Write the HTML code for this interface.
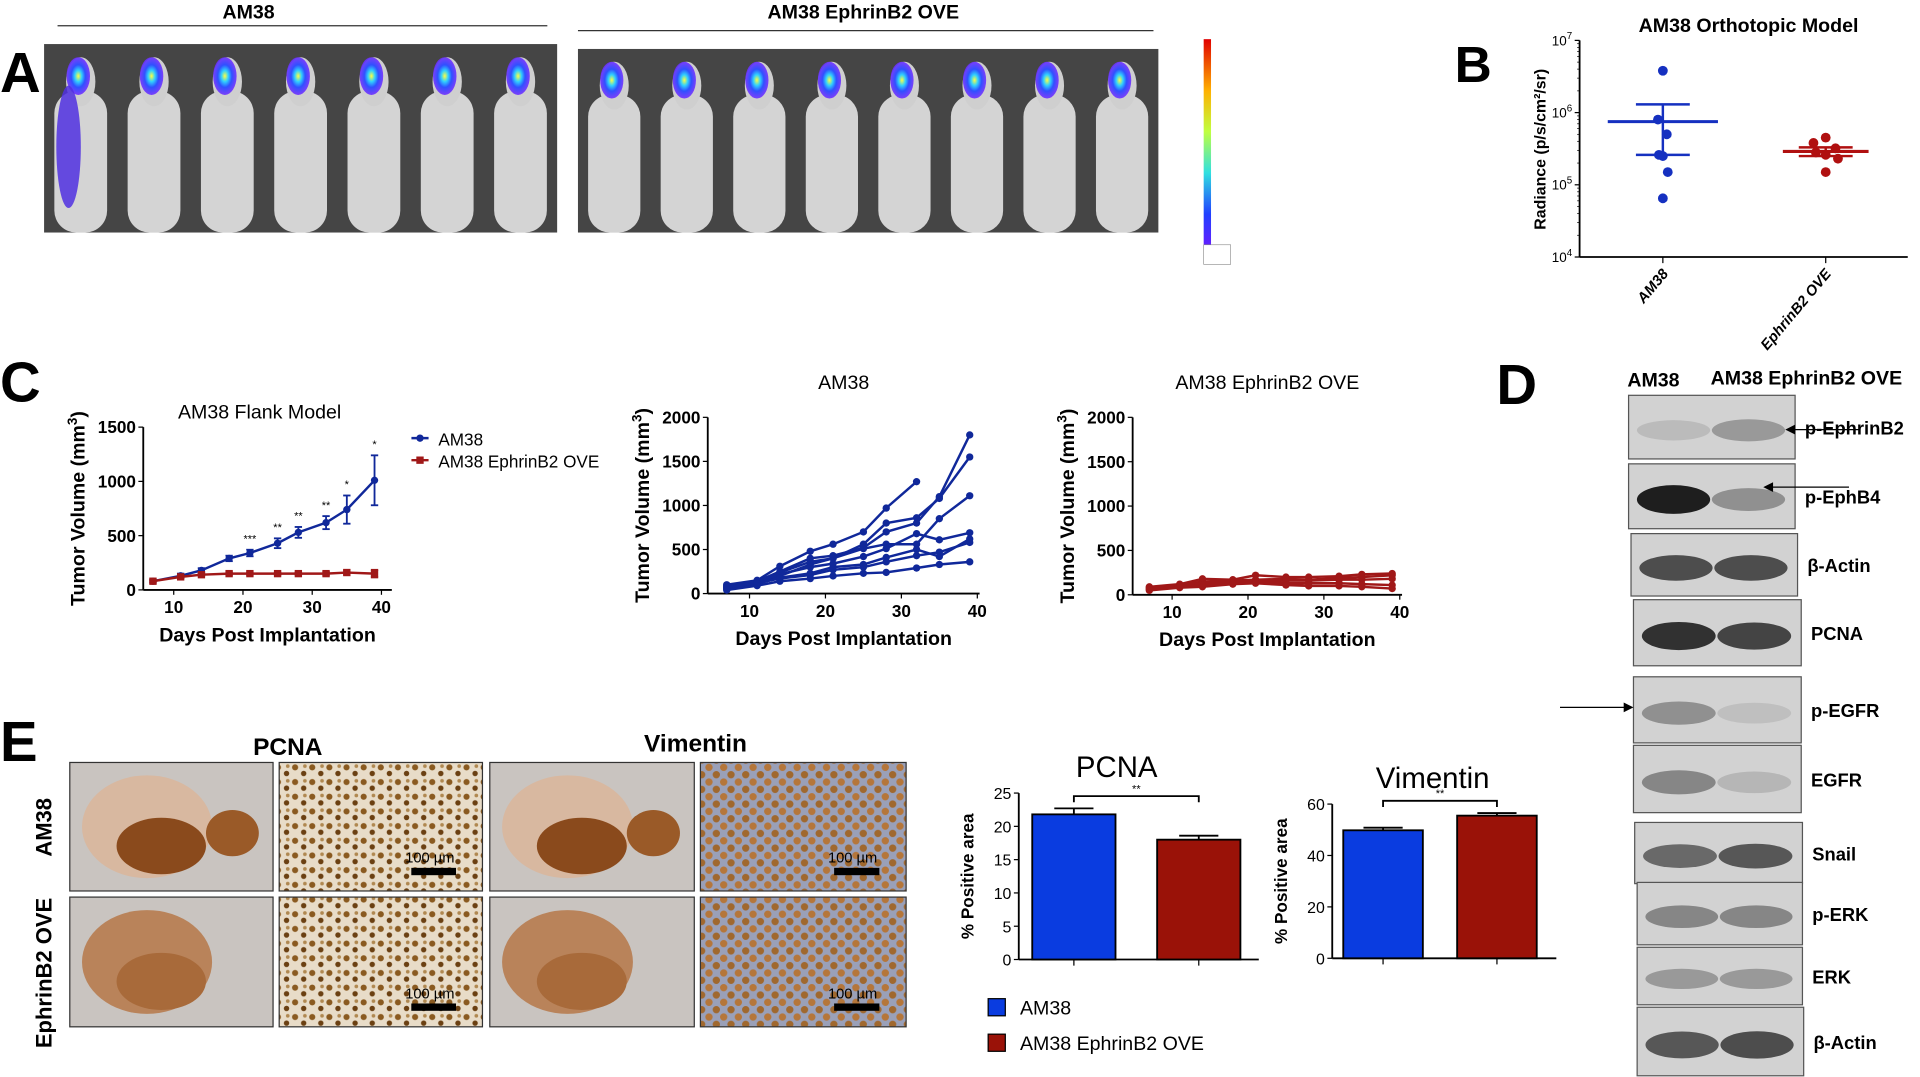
<!DOCTYPE html>
<html><head><meta charset="utf-8">
<style>
html,body{margin:0;padding:0;background:#fff;overflow:hidden}
svg{display:block}
text{font-family:"Liberation Sans",sans-serif}
</style></head>
<body>
<svg id="fig" width="1920" height="1077" viewBox="0 0 1568 880" preserveAspectRatio="none" xmlns="http://www.w3.org/2000/svg">
<defs>
<radialGradient id="lum" cx="50%" cy="50%" r="50%">
<stop offset="0" stop-color="#ffff40"/><stop offset="0.3" stop-color="#30d0ff"/><stop offset="0.6" stop-color="#3050ff"/><stop offset="1" stop-color="#7030ff" stop-opacity="0.9"/>
</radialGradient>
<linearGradient id="cbar" x1="0" y1="0" x2="0" y2="1">
<stop offset="0" stop-color="#e00000"/><stop offset="0.25" stop-color="#ffb000"/><stop offset="0.45" stop-color="#c0ff40"/><stop offset="0.65" stop-color="#30e0e0"/><stop offset="0.85" stop-color="#2040ff"/><stop offset="1" stop-color="#6020ff"/>
</linearGradient>
<pattern id="cells1" width="14" height="12" patternUnits="userSpaceOnUse">
<rect width="14" height="12" fill="#e8dcc8"/><circle cx="3" cy="3" r="2.5" fill="#8a5a20"/><circle cx="10" cy="8" r="2.2" fill="#6b4012"/><circle cx="11" cy="2" r="1.5" fill="#b08850"/>
</pattern>
<pattern id="cells2" width="12" height="12" patternUnits="userSpaceOnUse">
<rect width="12" height="12" fill="#9aa0b8"/><circle cx="3" cy="3" r="3" fill="#b5763a"/><circle cx="9" cy="9" r="3" fill="#a0682e"/>
</pattern>
</defs>

<!-- PANEL A -->
<text x="0" y="75" font-size="46" font-weight="bold">A</text>
<text x="203" y="15" font-size="16" font-weight="bold" text-anchor="middle">AM38</text>
<line x1="47" y1="21" x2="447" y2="21" stroke="#333"/>
<text x="705" y="15" font-size="16" font-weight="bold" text-anchor="middle">AM38 EphrinB2 OVE</text>
<line x1="472" y1="25" x2="942" y2="25" stroke="#333"/>
<g id="mice"></g>
<rect x="983" y="32" width="6" height="168" fill="url(#cbar)"/>
<rect x="983" y="200" width="22" height="16" fill="#fff" stroke="#888" stroke-width="0.5"/>

<!-- PANEL B -->
<text x="1188" y="67" font-size="42" font-weight="bold">B</text>
<text x="1428" y="26" font-size="16" font-weight="bold" text-anchor="middle">AM38 Orthotopic Model</text>
<text transform="translate(1262,122) rotate(-90)" font-size="13" font-weight="bold" text-anchor="middle">Radiance (p/s/cm²/sr)</text>
<g id="chartB"></g>

<!-- PANEL C -->
<text x="0" y="328" font-size="46" font-weight="bold">C</text>
<g id="chartC1"></g>
<g id="chartC2"></g>
<g id="chartC3"></g>

<!-- PANEL D -->
<text x="1222" y="330" font-size="46" font-weight="bold">D</text>
<text x="1329" y="316" font-size="16" font-weight="bold">AM38</text>
<text x="1397" y="314" font-size="16" font-weight="bold">AM38 EphrinB2 OVE</text>
<g id="blots"></g>

<!-- PANEL E -->
<text x="0" y="622" font-size="46" font-weight="bold">E</text>
<text x="235" y="617" font-size="20" font-weight="bold" text-anchor="middle">PCNA</text>
<text x="568" y="614" font-size="20" font-weight="bold" text-anchor="middle">Vimentin</text>
<text transform="translate(42,676) rotate(-90)" font-size="18" font-weight="bold" text-anchor="middle">AM38</text>
<text transform="translate(42,795) rotate(-90)" font-size="18" font-weight="bold" text-anchor="middle">EphrinB2 OVE</text>
<g id="ihc"></g>
<g id="barsE"></g>
<rect x="807" y="816" width="14" height="14" fill="#0a3ce0" stroke="#000"/>
<text x="833" y="829" font-size="16">AM38</text>
<rect x="807" y="845" width="14" height="14" fill="#9a1208" stroke="#000"/>
<text x="833" y="858" font-size="16">AM38 EphrinB2 OVE</text>
</svg>
<script>
const NS="http://www.w3.org/2000/svg";
function mk(parent,tag,attrs,txt){const e=document.createElementNS(NS,tag);for(const k in attrs)e.setAttribute(k,attrs[k]);if(txt!==undefined)e.textContent=txt;parent.appendChild(e);return e;}

// ---- data ----
const bCategories=["AM38","EphrinB2 OVE"];
const bAm38Points=[3.8e6,8e5,5e5,2.6e5,2.5e5,1.5e5,6.5e4];
const bOvePoints=[4.5e5,3.8e5,3.2e5,2.8e5,2.6e5,2.3e5,1.5e5];
const bMeans=[7.5e5,2.9e5];
const bErrHigh=[1.3e6,3.3e5];
const bErrLow=[2.6e5,2.5e5];
const bTickExps=[4,5,6,7];

const flankDays=[7,11,14,18,21,25,28,32,35,39];
const flankAm38=[80,130,180,290,340,430,530,620,740,1010];
const flankAm38Err=[15,20,20,25,30,45,50,60,130,230];
const flankOve=[80,120,140,150,150,150,150,150,160,150];
const flankOveErr=[10,10,10,10,10,10,10,15,20,35];
const flankStars=["","","","","***","**","**","**","*","*"];

const indivDays=[7,11,14,18,21,25,28,32,35,39];
const am38Mice=[
 [100,150,310,480,560,700,970,1270,null,null],
 [80,140,250,400,430,520,700,800,1100,1800],
 [60,120,200,330,400,560,800,860,1080,1550],
 [90,140,240,360,400,510,560,560,850,1110],
 [70,130,220,300,340,420,510,680,610,690],
 [50,110,180,230,300,330,410,500,420,620],
 [70,120,170,210,270,300,360,430,470,580],
 [40,90,140,170,200,230,240,290,330,360]];
const oveMice=[
 [90,120,180,170,220,200,200,210,230,240],
 [80,110,150,160,170,180,170,190,200,220],
 [70,100,130,140,150,160,160,170,170,180],
 [60,90,110,130,140,130,130,130,120,110],
 [50,80,90,120,130,110,100,100,90,70]];

const pcnaValues=[21.8,18];
const pcnaErr=[0.9,0.6];
const vimValues=[49.8,55.5];
const vimErr=[1,1];

// ---- Panel A images ----
const mice=document.getElementById('mice');
function strip(x0,y0,w,h,n,idx){
 const g=mk(mice,'g',{});
 
 
 mk(g,'rect',{x:x0,y:y0,width:w,height:h,fill:'#454545'});
 const cw=w/n;
 for(let i=0;i<n;i++){
  const cx=x0+cw*(i+0.5);
  mk(g,'rect',{x:cx-cw*0.36,y:y0+h*0.25,width:cw*0.72,height:h*0.75,rx:cw*0.3,fill:'#d4d4d4'});
  mk(g,'ellipse',{cx:cx,cy:y0+h*0.2,rx:cw*0.2,ry:h*0.13,fill:'#cfcfcf'});
  mk(g,'ellipse',{cx:cx-2,cy:y0+h*0.17,rx:cw*0.16,ry:h*0.1,fill:'url(#lum)'});
 }
 return g;
}
strip(36,36,419,154,7,1);
strip(472,40,474,150,8,2);
mk(mice,'ellipse',{cx:56,cy:120,rx:10,ry:50,fill:'#5030e0',opacity:0.85});

// ---- Panel B chart ----
(function(){
 const g=document.getElementById('chartB');
 const x0=1290,x1=1558,yTop=33,yBot=210;
 const y=v=>yBot-(Math.log10(v)-4)/3*(yBot-yTop);
 const xc=[1358,1491];
 mk(g,'line',{x1:x0,y1:yTop,x2:x0,y2:yBot,stroke:'#000','stroke-width':1.5});
 mk(g,'line',{x1:x0,y1:yBot,x2:x1,y2:yBot,stroke:'#000','stroke-width':1.5});
 bTickExps.forEach(e=>{
  const yy=y(Math.pow(10,e));
  mk(g,'line',{x1:x0-4,y1:yy,x2:x0,y2:yy,stroke:'#000'});
  const t=mk(g,'text',{x:x0-6,y:yy+4,'font-size':11,'text-anchor':'end'});
  
  
  mk(t,'tspan',{},'10');mk(t,'tspan',{dy:-5,'font-size':8},String(e));
  for(let m=2;m<10&&e<7;m++){const ym=y(m*Math.pow(10,e));mk(g,'line',{x1:x0-2,y1:ym,x2:x0,y2:ym,stroke:'#000','stroke-width':0.6});}
 });
 bCategories.forEach((c,i)=>{
  mk(g,'line',{x1:xc[i],y1:yBot,x2:xc[i],y2:yBot+5,stroke:'#000'});
  const t=mk(g,'text',{transform:`translate(${xc[i]+5},${yBot+14}) rotate(-50)`,'font-size':12,'font-weight':'bold','font-style':'italic','text-anchor':'end'},c);
  
  
 });
 const cols=['#1530c0','#b01010'];
 [bAm38Points,bOvePoints].forEach((pts,i)=>{
  const off=[0,-10,8,-8,0,10,0];
  pts.forEach((v,j)=>{const c=mk(g,'circle',{cx:xc[i]+off[j%off.length]*(i?1:0.4),cy:y(v),r:4,fill:cols[i]});
   });
  const hw=i?35:45;
  const m=mk(g,'line',{x1:xc[i]-hw,y1:y(bMeans[i]),x2:xc[i]+hw,y2:y(bMeans[i]),stroke:cols[i],'stroke-width':2.5});
  
  mk(g,'line',{x1:xc[i],y1:y(bErrHigh[i]),x2:xc[i],y2:y(bErrLow[i]),stroke:cols[i],'stroke-width':2});
  mk(g,'line',{x1:xc[i]-22,y1:y(bErrHigh[i]),x2:xc[i]+22,y2:y(bErrHigh[i]),stroke:cols[i],'stroke-width':2});
  mk(g,'line',{x1:xc[i]-22,y1:y(bErrLow[i]),x2:xc[i]+22,y2:y(bErrLow[i]),stroke:cols[i],'stroke-width':2});
 });
})();

// ---- line chart helper ----
function axes(g,o){
 const {x0,x1,yTop,yBot,ymax,ystep,xd0,xd1,xticks,title,titleY}=o;
 const X=d=>x0+(d-xd0)/(xd1-xd0)*(x1-x0);
 const Y=v=>yBot-v/ymax*(yBot-yTop);
 mk(g,'line',{x1:x0,y1:yTop,x2:x0,y2:yBot,stroke:'#000','stroke-width':1.5});
 mk(g,'line',{x1:x0,y1:yBot,x2:x1,y2:yBot,stroke:'#000','stroke-width':1.5});
 for(let v=0;v<=ymax;v+=ystep){
  mk(g,'line',{x1:x0-4,y1:Y(v),x2:x0,y2:Y(v),stroke:'#000'});
  const t=mk(g,'text',{x:x0-6,y:Y(v)+5,'font-size':14,'font-weight':'bold','text-anchor':'end'},String(v));
  
 }
 xticks.forEach(d=>{
  mk(g,'line',{x1:X(d),y1:yBot,x2:X(d),y2:yBot+4,stroke:'#000'});
  const t=mk(g,'text',{x:X(d),y:yBot+19,'font-size':14,'font-weight':'bold','text-anchor':'middle'},String(d));
  
 });
 const xt=mk(g,'text',{x:(x0+x1)/2,y:yBot+42,'font-size':16,'font-weight':'bold','text-anchor':'middle'},'Days Post Implantation');
 
 const yt=mk(g,'text',{transform:`translate(${x0-48},${(yTop+yBot)/2}) rotate(-90)`,'font-size':16,'font-weight':'bold','text-anchor':'middle'});
 
 mk(yt,'tspan',{},'Tumor Volume (mm');mk(yt,'tspan',{dy:-6,'font-size':11},'3');mk(yt,'tspan',{dy:6},')');
 const tt=mk(g,'text',{x:o.titleX,y:titleY,'font-size':16,'text-anchor':'middle'},title);
 
 return {X,Y};
}
function series(g,days,vals,X,Y,color,marker){
 let d='';vals.forEach((v,i)=>{if(v===null)return;d+=(d?'L':'M')+X(days[i])+','+Y(v);});
 const p=mk(g,'path',{d:d,fill:'none',stroke:color,'stroke-width':2});
 
 vals.forEach((v,i)=>{if(v===null)return;
  const m=marker==='sq'?mk(g,'rect',{x:X(days[i])-3,y:Y(v)-3,width:6,height:6,fill:color}):mk(g,'circle',{cx:X(days[i]),cy:Y(v),r:3,fill:color});
  });
}

// C1
(function(){
 const g=document.getElementById('chartC1');
 const {X,Y}=axes(g,{x0:117,x1:320,yTop:349,yBot:482,ymax:1500,ystep:500,xd0:5.6,xd1:41.5,xticks:[10,20,30,40],title:'AM38 Flank Model',titleX:212,titleY:342});
 [[flankAm38,flankAm38Err,'#10289a','c'],[flankOve,flankOveErr,'#a01818','sq']].forEach(([vals,err,col,mkr])=>{
  vals.forEach((v,i)=>{const x=X(flankDays[i]);
   mk(g,'line',{x1:x,y1:Y(v+err[i]),x2:x,y2:Y(v-err[i]),stroke:col,'stroke-width':1.5});
   mk(g,'line',{x1:x-3,y1:Y(v+err[i]),x2:x+3,y2:Y(v+err[i]),stroke:col,'stroke-width':1.5});
   mk(g,'line',{x1:x-3,y1:Y(v-err[i]),x2:x+3,y2:Y(v-err[i]),stroke:col,'stroke-width':1.5});});
  series(g,flankDays,vals,X,Y,col,mkr);
 });
 flankStars.forEach((s,i)=>{if(!s)return;const t=mk(g,'text',{x:X(flankDays[i]),y:Y(flankAm38[i]+flankAm38Err[i])-6,'font-size':9,'text-anchor':'middle'},s);
  });
 mk(g,'line',{x1:336,y1:358,x2:350,y2:358,stroke:'#10289a','stroke-width':2});mk(g,'circle',{cx:343,cy:358,r:3,fill:'#10289a'});
 const l1=mk(g,'text',{x:358,y:364,'font-size':14},'AM38');
 mk(g,'line',{x1:336,y1:376,x2:350,y2:376,stroke:'#a01818','stroke-width':2});mk(g,'rect',{x:340,y:373,width:6,height:6,fill:'#a01818'});
 const l2=mk(g,'text',{x:358,y:382,'font-size':14},'AM38 EphrinB2 OVE');
})();
// C2
(function(){
 const g=document.getElementById('chartC2');
 const {X,Y}=axes(g,{x0:578,x1:800,yTop:341,yBot:485,ymax:2000,ystep:500,xd0:4.5,xd1:40.3,xticks:[10,20,30,40],title:'AM38',titleX:689,titleY:318});
 am38Mice.forEach(m=>series(g,indivDays,m,X,Y,'#10289a','c'));
})();
// C3
(function(){
 const g=document.getElementById('chartC3');
 const {X,Y}=axes(g,{x0:925,x1:1145,yTop:341,yBot:486,ymax:2000,ystep:500,xd0:4.8,xd1:40.3,xticks:[10,20,30,40],title:'AM38 EphrinB2 OVE',titleX:1035,titleY:318});
 oveMice.forEach(m=>series(g,indivDays,m,X,Y,'#a01818','c'));
})();

// ---- Panel D blots ----
(function(){
 const g=document.getElementById('blots');
 const labels=['p-EphrinB2','p-EphB4','β-Actin','PCNA','p-EGFR','EGFR','Snail','p-ERK','ERK','β-Actin'];
 const boxes=[[1330,323,136,52],[1330,379,136,53],[1332,436,136,51],[1334,490,137,54],[1334,553,137,54],[1334,609,137,55],[1335,672,137,50],[1337,721,135,51],[1337,774,135,47],[1337,823,136,56]];
 const dark=[[.12,.3],[.95,.35],[.7,.7],[.85,.75],[.35,.1],[.4,.15],[.55,.65],[.4,.4],[.3,.3],[.65,.7]];
 boxes.forEach((b,i)=>{
  const [x,y,w,h]=b;
  const r=mk(g,'rect',{x:x,y:y,width:w,height:h,fill:'#d2d2d2',stroke:'#555'});
  
  dark[i].forEach((d,j)=>{const c=Math.round(210-d*190);
   mk(g,'ellipse',{cx:x+w*(j?0.72:0.27),cy:y+h*0.55,rx:w*0.22,ry:h*0.15+d*4,fill:`rgb(${c},${c},${c})`});});
  const t=mk(g,'text',{x:x+w+8,y:y+h/2+6,'font-size':15,'font-weight':'bold'},labels[i]);
  
 });
 mk(g,'line',{x1:1462,y1:351,x2:1518,y2:351,stroke:'#000'});mk(g,'path',{d:'M1458,351 l8,-4 l0,8z'});
 mk(g,'line',{x1:1444,y1:398,x2:1510,y2:398,stroke:'#000'});mk(g,'path',{d:'M1440,398 l8,-4 l0,8z'});
 mk(g,'line',{x1:1274,y1:578,x2:1328,y2:578,stroke:'#000'});mk(g,'path',{d:'M1334,578 l-8,-4 l0,8z'});
})();

// ---- Panel E images ----
(function(){
 const g=document.getElementById('ihc');
 const cols=[[57,166],[228,166],[400,167],[572,168]];
 const rows=[[623,105],[733,106]];
 rows.forEach((r,ri)=>cols.forEach((c,ci)=>{
  const [x,w]=c,[y,h]=r;
  const fill=ci===1?'url(#cells1)':ci===3?'url(#cells2)':'#c9c4c0';
  const im=mk(g,'rect',{x:x,y:y,width:w,height:h,fill:fill,stroke:'#333'});
  
  if(ci===0||ci===2){
   mk(g,'ellipse',{cx:x+w*0.38,cy:y+h*0.5,rx:w*0.32,ry:h*0.4,fill:ri?'#b9835a':'#d8b8a0'});
   mk(g,'ellipse',{cx:x+w*0.45,cy:y+h*0.65,rx:w*0.22,ry:h*0.22,fill:ri?'#a86a3a':'#8a4a1c'});
   if(!ri)mk(g,'ellipse',{cx:x+w*0.8,cy:y+h*0.55,rx:w*0.13,ry:h*0.18,fill:'#9a5a28'});
  } else {
   mk(g,'text',{x:x+w*0.62,y:y+h*0.78,'font-size':12},'100 µm');
   mk(g,'rect',{x:x+w*0.65,y:y+h*0.82,width:w*0.22,height:6,fill:'#000'});
  }
 }));
})();

// ---- Panel E bar charts ----
function barChart(g,o,vals,errs){
 const {x0,x1,yTop,yBot,ymax,ystep,bx,bw,title,titleX}=o;
 const Y=v=>yBot-v/ymax*(yBot-yTop);
 mk(g,'line',{x1:x0,y1:yTop,x2:x0,y2:yBot,stroke:'#000','stroke-width':1.5});
 mk(g,'line',{x1:x0,y1:yBot,x2:x1,y2:yBot,stroke:'#000','stroke-width':1.5});
 for(let v=0;v<=ymax;v+=ystep){
  mk(g,'line',{x1:x0-4,y1:Y(v),x2:x0,y2:Y(v),stroke:'#000'});
  const t=mk(g,'text',{x:x0-6,y:Y(v)+5,'font-size':13,'text-anchor':'end'},String(v));
  
 }
 const cols=['#0a3ce0','#9a1208'];
 vals.forEach((v,i)=>{
  const r=mk(g,'rect',{x:bx[i],y:Y(v),width:bw,height:yBot-Y(v),fill:cols[i],stroke:'#000','stroke-width':1.5});
  
  const cx=bx[i]+bw/2;
  mk(g,'line',{x1:cx,y1:Y(v),x2:cx,y2:Y(v+errs[i]),stroke:'#000','stroke-width':1.5});
  mk(g,'line',{x1:cx-16,y1:Y(v+errs[i]),x2:cx+16,y2:Y(v+errs[i]),stroke:'#000','stroke-width':1.5});
  mk(g,'line',{x1:cx,y1:yBot,x2:cx,y2:yBot+5,stroke:'#000'});
 });
 const sy=Y(Math.max(...vals.map((v,i)=>v+errs[i])))-10;
 const c0=bx[0]+bw/2,c1=bx[1]+bw/2;
 mk(g,'path',{d:`M${c0},${sy+5}V${sy}H${c1}V${sy+5}`,fill:'none',stroke:'#000','stroke-width':1.5});
 mk(g,'text',{x:(c0+c1)/2,y:sy-3,'font-size':9,'text-anchor':'middle'},'**');
 const yt=mk(g,'text',{transform:`translate(${x0-37},${(yTop+yBot)/2}) rotate(-90)`,'font-size':14,'font-weight':'bold','text-anchor':'middle'},'% Positive area');
 
 const tt=mk(g,'text',{x:titleX,y:yTop-13,'font-size':24,'text-anchor':'middle'},title);
 
}
const be=document.getElementById('barsE');
barChart(be,{x0:832,x1:1028,yTop:648,yBot:784,ymax:25,ystep:5,bx:[843,945],bw:68,title:'PCNA',titleX:912},pcnaValues,pcnaErr);
barChart(be,{x0:1088,x1:1271,yTop:657,yBot:783,ymax:60,ystep:20,bx:[1097,1190],bw:65,title:'Vimentin',titleX:1170},vimValues,vimErr);
</script>
</body></html>
